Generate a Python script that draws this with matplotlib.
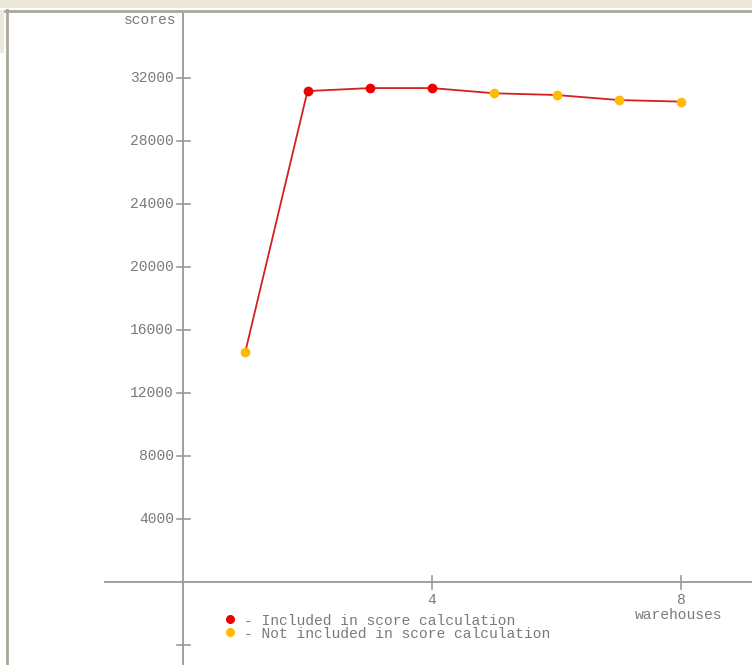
import matplotlib
matplotlib.use("Agg")
import matplotlib.pyplot as plt
from matplotlib.lines import Line2D
from matplotlib.patches import Rectangle

# data
warehouses = [1, 2, 3, 4, 5, 6, 7, 8]
scores = [14600, 31170, 31360, 31360, 31030, 30920, 30600, 30500]
included = [False, True, True, True, False, False, False, False]
y_ticks = [4000, 8000, 12000, 16000, 20000, 24000, 28000, 32000]
x_ticks = [4, 8]
legend_labels = ["- Included in score calculation",
                 "- Not included in score calculation"]

W, H = 752, 665
fig = plt.figure(figsize=(W / 100, H / 100), dpi=100)
fig.patch.set_facecolor("white")

# pixel geometry of the plot in the reference
x0_px, px_per_x = 183, 62.25
y0_px, px_per_1000 = 582, 15.75

def px_to_x(px):
    return (px - x0_px) / px_per_x

def py_to_y(py):
    return (y0_px - py) / px_per_1000 * 1000

ax = fig.add_axes([0, 0, 1, 1])
ax.set_xlim(px_to_x(0), px_to_x(W))
ax.set_ylim(py_to_y(H), py_to_y(0))
ax.axis("off")

axis_col = "#999999"
text_col = "#7a7a7a"
font = dict(family=["Liberation Mono", "DejaVu Sans Mono"], fontsize=10.5, color=text_col)

# window frame bits
fig.patches.append(Rectangle((0, 1 - 8 / H), 1, 8 / H, transform=fig.transFigure,
                             facecolor="#ece9d8", edgecolor="none", zorder=0))
fig.patches.append(Rectangle((0, 1 - 53 / H), 4 / W, 43 / H, transform=fig.transFigure,
                             facecolor="#ece9d8", edgecolor="none", zorder=0))
fig.lines.append(Line2D([5 / W, 1], [1 - 10.5 / H] * 2, transform=fig.transFigure,
                        color="#a8a898", lw=2))
fig.lines.append(Line2D([6.5 / W] * 2, [0, 1 - 10 / H], transform=fig.transFigure,
                        color="#a8a898", lw=2))

# axes lines
ax.plot([0, 0], [py_to_y(H), py_to_y(13)], color=axis_col, lw=1.3)
ax.plot([px_to_x(105), px_to_x(W)], [0, 0], color=axis_col, lw=1.3)

tick_dx = 6.5 / px_per_x
for t in y_ticks + [-4000]:
    ax.plot([-tick_dx, tick_dx], [t, t], color=axis_col, lw=1.2)
    if t > 0:
        ax.text(px_to_x(174), t, str(t), ha="right", va="center", **font)

tick_dy = 6.5 / px_per_1000 * 1000
for t in x_ticks:
    ax.plot([t, t], [-tick_dy, tick_dy], color=axis_col, lw=1.2)
    ax.text(t, py_to_y(600), str(t), ha="center", va="center", **font)

ax.text(px_to_x(176), py_to_y(20), "scores", ha="right", va="center", **font)
ax.text(px_to_x(679), py_to_y(615), "warehouses", ha="center", va="center", **font)

# data line and markers
ax.plot(warehouses, scores, color="#d42020", lw=1.3, zorder=3)
for xv, yv, inc in zip(warehouses, scores, included):
    ax.plot(xv, yv, "o", ms=7, mec="none",
            color="#ee0000" if inc else "#ffbb00", zorder=4)

# legend
for i, (lab, col) in enumerate(zip(legend_labels, ["#ee0000", "#ffbb00"])):
    py = 621 + 12.5 * i
    ax.plot(px_to_x(230), py_to_y(py - 2), "o", ms=6.5, mec="none", color=col)
    ax.text(px_to_x(244), py_to_y(py), lab, ha="left", va="center", **font)

fig.savefig("out.png", dpi=100)
